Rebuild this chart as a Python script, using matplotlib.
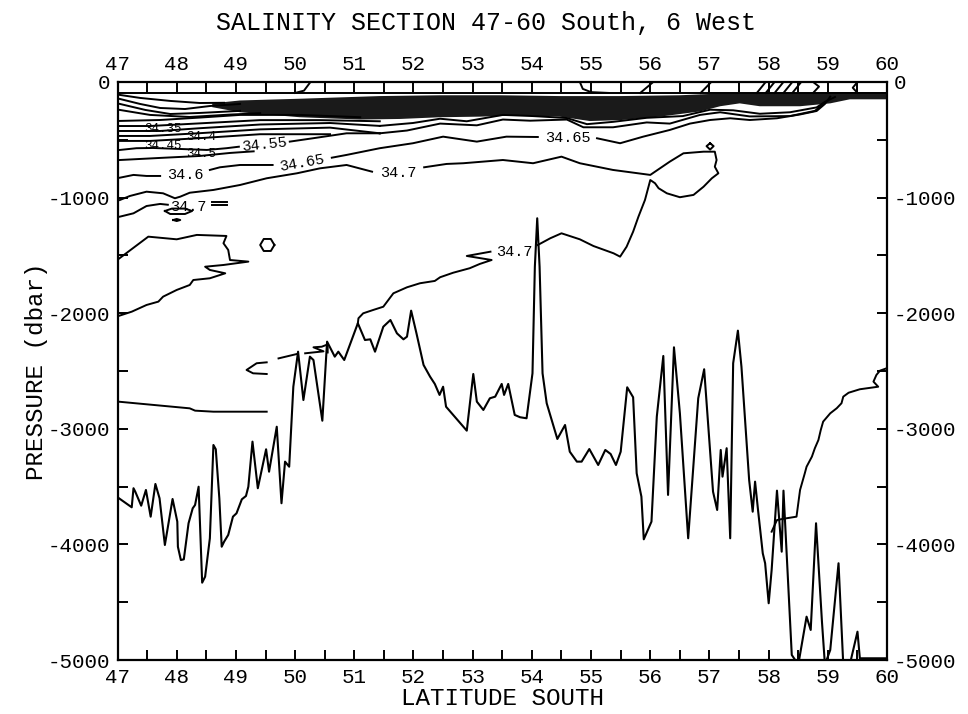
import numpy as np
import matplotlib
matplotlib.use("Agg")
import matplotlib.pyplot as plt

plt.rcParams["font.family"] = ["Liberation Mono", "DejaVu Sans Mono"]
plt.rcParams["axes.unicode_minus"] = False

# ---- bottom topography (latitude south, pressure dbar) ----
topo_lat = [47.00, 47.24, 47.27, 47.30, 47.40, 47.48, 47.56, 47.64, 47.71, 47.80,
            47.93, 48.01, 48.02, 48.07, 48.12, 48.20, 48.27, 48.31, 48.37, 48.43,
            48.48, 48.56, 48.62, 48.66, 48.72, 48.76, 48.80, 48.87, 48.95, 49.01,
            49.10, 49.17, 49.21, 49.28, 49.37, 49.51, 49.56, 49.69, 49.77, 49.83,
            49.90, 49.97, 50.05, 50.14, 50.25, 50.31, 50.46, 50.54, 50.67, 50.73,
            50.83, 51.06, 51.18, 51.27, 51.35, 51.49, 51.61, 51.72, 51.83, 51.89,
            51.96, 52.05, 52.17, 52.28, 52.36, 52.44, 52.50, 52.55, 52.90, 53.01,
            53.07, 53.18, 53.29, 53.38, 53.49, 53.53, 53.60, 53.71, 53.80, 53.91,
            54.01, 54.05, 54.09, 54.13, 54.18, 54.25, 54.43, 54.56, 54.64, 54.76,
            54.84, 54.97, 55.12, 55.24, 55.33, 55.42, 55.50, 55.61, 55.71, 55.77,
            55.85, 55.89, 56.02, 56.11, 56.22, 56.30, 56.40, 56.50, 56.64, 56.81,
            56.91, 57.06, 57.13, 57.19, 57.22, 57.29, 57.35, 57.40, 57.48, 57.54,
            57.67, 57.73, 57.77, 57.82, 57.90, 57.94, 58.00, 58.05, 58.14, 58.22,
            58.25, 58.39, 58.50, 58.60, 58.64, 58.71, 58.80, 58.90, 58.95, 59.04,
            59.18, 59.26, 59.37, 59.50, 59.54, 60.00]
topo_dbar = [-3592, -3679, -3514, -3544, -3665, -3529, -3760, -3477, -3601, -4005,
             -3607, -3803, -4020, -4135, -4129, -3817, -3688, -3659, -3501, -4331,
             -4279, -3947, -3140, -3177, -3601, -4020, -3977, -3918, -3760, -3731,
             -3610, -3581, -3501, -3111, -3514, -3177, -3371, -2982, -3644, -3284,
             -3328, -2636, -2333, -2751, -2376, -2405, -2930, -2246, -2376, -2333,
             -2405, -2087, -2232, -2226, -2333, -2117, -2059, -2174, -2226, -2203,
             -1978, -2174, -2448, -2549, -2612, -2707, -2636, -2809, -3016, -2526,
             -2765, -2837, -2736, -2722, -2612, -2707, -2612, -2880, -2900, -2909,
             -2520, -1598, -1179, -1598, -2520, -2779, -3088, -2967, -3198, -3284,
             -3284, -3175, -3313, -3183, -3218, -3313, -3198, -2641, -2727, -3385,
             -3587, -3956, -3803, -2895, -2370, -3572, -2295, -2866, -3947, -2736,
             -2485, -3544, -3702, -3183, -3414, -3168, -3947, -2433, -2151, -2463,
             -3443, -3717, -3457, -3702, -4077, -4163, -4509, -4221, -3535, -4063,
             -3535, -4956, -5040, -4740, -4625, -4740, -3817, -4669, -5040, -4913,
             -4163, -5040, -5040, -4755, -4985, -4985]

# ---- dense near-surface band of isohalines (upper and lower edge) ----
band_top = [(48.60, -185), (49.07, -160), (50.08, -145), (51.43, -122), (52.45, -115),
            (53.46, -115), (54.47, -122), (55.49, -122), (56.50, -115), (57.18, -100),
            (57.85, -95), (58.53, -95), (59.21, -87), (60.00, -87)]
band_bottom = [(60.00, -150), (59.37, -150), (59.04, -185), (58.53, -210), (57.85, -210),
               (57.51, -185), (57.18, -210), (56.84, -255), (56.16, -300), (55.49, -330),
               (54.98, -338), (54.47, -300), (53.80, -290), (53.12, -300), (52.45, -305),
               (51.77, -320), (51.10, -325), (50.08, -305), (49.07, -262), (48.60, -218)]

# ---- individual isohalines ----
surface_line = [(47.0, -95), (60.0, -95)]
fan_1 = [(47.04, -112), (47.38, -138), (47.89, -164), (48.39, -182), (48.80, -180)]
fan_2 = [(47.04, -147), (47.38, -190), (47.72, -225), (48.14, -234), (48.56, -208), (49.07, -190)]
fan_3 = [(47.04, -190), (47.47, -242), (47.89, -277), (48.39, -268), (49.07, -250)]
fan_4 = [(47.04, -242), (47.55, -285), (48.22, -303), (48.90, -282), (49.41, -270)]
west_1 = [(47.04, -337), (47.72, -329), (48.39, -308), (49.07, -285), (50.08, -285), (51.10, -305)]
west_2 = [(47.04, -381), (47.55, -381), (48.39, -358), (49.41, -330), (50.42, -330), (51.43, -340)]
west_3 = [(47.04, -424), (47.72, -424), (48.39, -400), (49.41, -368), (50.59, -355), (51.43, -380)]
west_4 = [(47.04, -467), (47.55, -467), (48.39, -443), (49.41, -410), (50.59, -395), (51.43, -444)]
west_5 = [(47.04, -510), (47.55, -510), (48.39, -486), (49.41, -452), (50.59, -452)]
s3455_a = [(47.04, -588), (47.32, -573), (47.60, -571), (48.51, -588), (48.84, -573), (49.05, -560)]
s3455_b = [(49.91, -516), (50.30, -487), (50.87, -444), (51.43, -444)]
west_7 = [(47.04, -675), (47.72, -657), (48.39, -640), (48.90, -614), (49.30, -600)]
mid_1 = [(51.43, -380), (51.99, -355), (52.45, -318), (52.90, -340), (53.51, -285), (54.02, -295),
         (54.59, -312), (54.93, -365), (55.37, -345), (55.94, -310), (56.55, -295), (57.01, -240),
         (57.40, -245), (57.85, -275), (58.36, -262), (58.81, -220), (58.95, -172), (59.12, -130)]
mid_2 = [(51.43, -444), (51.89, -420), (52.45, -360), (53.07, -375), (53.51, -325), (53.97, -335),
         (54.59, -325), (54.87, -392), (55.37, -392), (55.94, -350), (56.33, -360), (56.84, -285),
         (57.18, -262), (57.68, -298), (58.36, -295), (58.78, -250), (59.00, -160)]

s3465_a = [(47.04, -828), (47.27, -804), (47.49, -813), (47.72, -813)]
s3465_b = [(48.56, -761), (48.73, -738), (49.07, -718), (49.62, -718)]
s3465_c = [(50.62, -655), (50.87, -631), (51.43, -573), (51.99, -530), (52.50, -473),
           (53.07, -516), (53.57, -473), (54.10, -476)]
s3465_d = [(55.10, -487), (55.49, -530), (55.88, -473), (56.33, -415), (56.67, -360),
           (57.01, -329), (57.35, -314), (57.68, -329), (58.14, -314), (58.53, -281),
           (58.81, -251), (58.95, -190), (59.04, -127)]

s347_a = [(47.04, -1021), (47.21, -986), (47.49, -949), (47.77, -963), (47.97, -1006),
          (48.06, -992), (48.22, -958), (48.62, -934), (49.07, -891), (49.52, -833),
          (50.03, -790), (50.42, -747), (50.87, -718), (51.30, -776)]
s347_b = [(52.18, -738), (52.56, -709), (52.84, -703), (53.51, -675), (54.02, -703),
          (54.50, -646), (54.81, -703), (55.37, -761), (56.00, -804), (56.08, -776),
          (56.33, -689), (56.56, -617), (56.90, -603), (57.09, -603), (57.12, -675),
          (57.09, -733), (57.15, -790), (57.04, -833), (56.90, -906), (56.73, -977),
          (56.50, -997), (56.28, -963), (56.14, -919), (56.08, -876), (56.00, -848),
          (55.97, -906), (55.91, -1021), (55.80, -1165), (55.71, -1295), (55.60, -1425),
          (55.49, -1511), (55.38, -1482), (55.04, -1419), (54.81, -1361), (54.50, -1309),
          (54.31, -1352), (54.10, -1410)]
s347_c = [(53.30, -1468), (52.90, -1505), (53.32, -1540), (53.12, -1574), (52.95, -1611),
          (52.67, -1650), (52.45, -1689), (52.36, -1721), (52.11, -1741), (51.89, -1776),
          (51.66, -1828), (51.49, -1944), (51.32, -1972), (51.15, -2001), (51.07, -2044),
          (51.06, -2087)]
s347_west = [(47.04, -1165), (47.27, -1136), (47.49, -1073), (47.72, -1055), (47.85, -1062)]
s347_dash_1 = [(48.60, -1040), (48.85, -1040)]
s347_dash_2 = [(48.60, -1062), (48.85, -1062)]
s347_loop = [(47.80, -1116), (47.92, -1095), (48.14, -1095), (48.26, -1116),
             (48.14, -1142), (47.89, -1142), (47.80, -1116)]
s347_blob = [(47.94, -1194), (48.00, -1185), (48.06, -1194), (48.00, -1203), (47.94, -1194)]
s347_pool = [(47.01, -1534), (47.52, -1338), (48.00, -1361), (48.34, -1323), (48.84, -1332),
             (48.79, -1395), (48.87, -1453), (48.90, -1540), (49.21, -1554), (48.79, -1583),
             (48.48, -1598), (48.56, -1626), (48.82, -1655), (48.56, -1698), (48.28, -1713),
             (48.22, -1756), (48.00, -1799), (47.77, -1857), (47.69, -1900), (47.49, -1929),
             (47.24, -1987), (47.03, -2022)]
hexagon = [(49.65, -1410), (49.59, -1358), (49.47, -1358), (49.41, -1410),
           (49.47, -1462), (49.59, -1462), (49.65, -1410)]
circle_57 = [(57.01, -530), (57.07, -555), (57.01, -585), (56.95, -555), (57.01, -530)]
deep_c = [(49.52, -2425), (49.35, -2433), (49.18, -2491), (49.29, -2520), (49.52, -2526)]
deep_d = [(49.72, -2391), (50.03, -2353)]
deep_e = [(50.17, -2347), (50.48, -2330), (50.31, -2295), (50.45, -2290), (50.55, -2270), (50.55, -2340)]
deep_west = [(47.01, -2765), (48.22, -2823), (48.31, -2843), (48.62, -2852), (49.52, -2852)]
deep_east = [(59.99, -2477), (59.88, -2497), (59.82, -2534), (59.77, -2592), (59.85, -2636),
             (59.54, -2658), (59.35, -2688), (59.26, -2722), (59.23, -2779), (59.15, -2822),
             (59.04, -2866), (58.92, -2938), (58.88, -3010), (58.84, -3097), (58.78, -3168),
             (58.73, -3241), (58.64, -3328), (58.61, -3385), (58.53, -3529), (58.47, -3760),
             (58.30, -3774), (58.14, -3789), (58.05, -3890)]
surface_bits = [
    [(50.00, -95), (50.15, -75), (50.26, 0)],
    [(54.81, 0), (54.86, -60), (55.00, -88), (55.30, -95)],
    [(55.83, -95), (56.05, 0)],
    [(56.85, -95), (57.03, 0)],
    [(57.80, -95), (57.95, 0)], [(57.95, -95), (58.10, 0)], [(58.10, -95), (58.25, 0)],
    [(58.25, -95), (58.40, 0)], [(58.40, -95), (58.55, 0)],
    [(58.75, 0), (58.85, -40), (58.75, -95)],
    [(59.50, 0), (59.42, -50), (59.50, -95)],
]

isohalines = [surface_line, fan_1, fan_2, fan_3, fan_4, west_1, west_2, west_3, west_4, west_5,
              s3455_a, s3455_b, west_7, mid_1, mid_2, s3465_a, s3465_b, s3465_c, s3465_d,
              s347_a, s347_b, s347_c, s347_west, s347_dash_1, s347_dash_2, s347_loop,
              s347_blob, s347_pool, hexagon, circle_57, deep_c, deep_d, deep_e, deep_west,
              deep_east] + surface_bits

# contour labels: text, latitude, pressure, rotation, size
label_text = ["34.35", "34.4", "34.45", "34.5", "34.55", "34.6", "34.65", "34.7",
              "34.65", "34.7", "34.7"]
label_lat = [47.76, 48.42, 47.76, 48.42, 49.48, 48.14, 50.12, 51.74, 54.60, 48.19, 53.70]
label_dbar = [-405, -475, -555, -625, -545, -804, -700, -787, -487, -1085, -1470]
label_rot = [0, 0, 0, 0, 6, 0, 10, 0, 0, 0, 0]
label_size = [9, 9, 9, 9, 11, 11, 11, 11, 11, 11, 11]

fig = plt.figure(figsize=(9.68, 7.14), dpi=100)
ax = fig.add_axes([0.1214, 0.0756, 0.795, 0.8096])

band_x = [p[0] for p in band_top + band_bottom]
band_y = [p[1] for p in band_top + band_bottom]
ax.fill(band_x, band_y, color="#1a1a1a", lw=0)

for line in isohalines:
    ax.plot([p[0] for p in line], [p[1] for p in line], color="black", lw=1.4,
            solid_joinstyle="round")
ax.plot(topo_lat, topo_dbar, color="black", lw=1.5)

for txt, la, pr, rot, fs in zip(label_text, label_lat, label_dbar, label_rot, label_size):
    ax.text(la, pr, txt, fontsize=fs, ha="center", va="center", rotation=rot, zorder=5)

ax.set_xlim(47, 60)
ax.set_ylim(-5000, 0)
ax.set_xticks(np.arange(47, 61))
ax.set_xticks(np.arange(47.5, 60, 1), minor=True)
ax.set_yticks(np.arange(-5000, 1, 1000))
ax.set_yticks(np.arange(-4500, 0, 1000), minor=True)
ax.tick_params(which="both", direction="in", top=True, right=True, length=7.5, width=1.4)
ax.tick_params(labeltop=True, labelright=True, labelsize=15, pad=5)
ax.tick_params(axis="x", which="major", pad=6)
for s in ax.spines.values():
    s.set_linewidth(1.6)

fig.text(0.502, 0.968, "SALINITY SECTION 47-60 South, 6 West", fontsize=18,
         ha="center", va="center")
ax.set_xlabel("LATITUDE SOUTH", fontsize=17.5, labelpad=0)
ax.set_ylabel("PRESSURE (dbar)", fontsize=17.5, labelpad=0)

fig.savefig("out.png", dpi=100)
